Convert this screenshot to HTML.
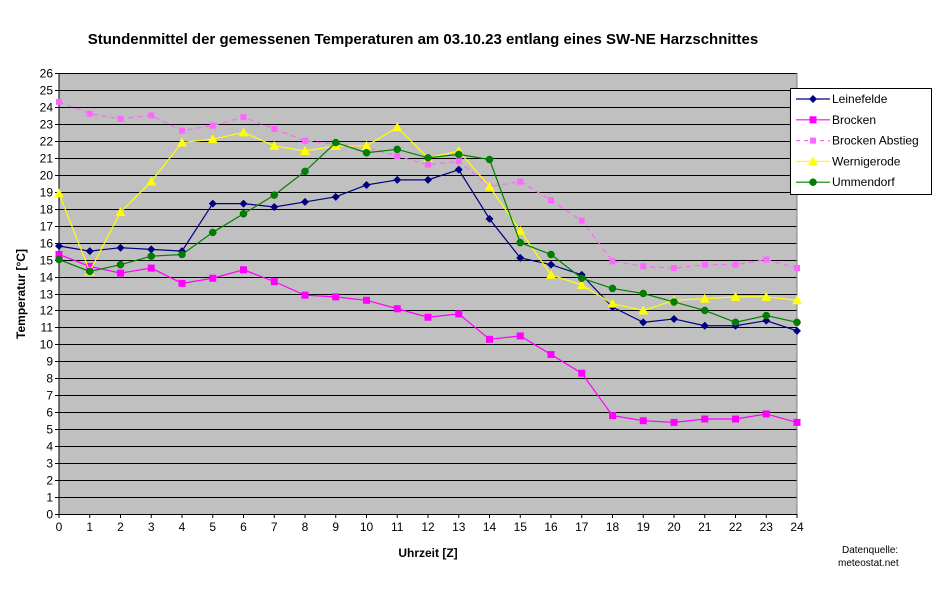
<!DOCTYPE html>
<html><head><meta charset="utf-8"><style>
body{margin:0;background:#fff;font-family:"Liberation Sans",Arial,sans-serif}
svg text{font-family:"Liberation Sans",Arial,sans-serif}
</style></head><body>
<svg id="c" width="935" height="586" xmlns="http://www.w3.org/2000/svg">
<rect width="935" height="586" fill="#fff"/>
<text x="423" y="44" text-anchor="middle" font-size="15" font-weight="bold">Stundenmittel der gemessenen Temperaturen am 03.10.23 entlang eines SW-NE Harzschnittes</text>
<rect x="59" y="73" width="738" height="441" fill="#c0c0c0"/>
<g id="grid"></g><g id="axes"></g><g id="series"></g>
<text transform="translate(25,294) rotate(-90)" text-anchor="middle" font-size="12" font-weight="bold">Temperatur [°C]</text>
<text x="428" y="557" text-anchor="middle" font-size="12" font-weight="bold">Uhrzeit [Z]</text>
<text x="842" y="553" font-size="10">Datenquelle:</text>
<text x="838" y="566" font-size="10">meteostat.net</text>
<g>
<rect x="790.5" y="88.5" width="141" height="106" fill="#fff" stroke="#000"/>
<g id="legend"></g>
</g>
</svg>
<script>
const hours=[0,1,2,3,4,5,6,7,8,9,10,11,12,13,14,15,16,17,18,19,20,21,22,23,24];
const yTicks=[0,1,2,3,4,5,6,7,8,9,10,11,12,13,14,15,16,17,18,19,20,21,22,23,24,25,26];
const leinefelde=[15.8,15.5,15.7,15.6,15.5,18.3,18.3,18.1,18.4,18.7,19.4,19.7,19.7,20.3,17.4,15.1,14.7,14.1,12.2,11.3,11.5,11.1,11.1,11.4,10.8];
const brocken=[15.3,14.6,14.2,14.5,13.6,13.9,14.4,13.7,12.9,12.8,12.6,12.1,11.6,11.8,10.3,10.5,9.4,8.3,5.8,5.5,5.4,5.6,5.6,5.9,5.4];
const brockenAbstieg=[24.3,23.6,23.3,23.5,22.6,22.9,23.4,22.7,22.0,21.8,21.6,21.1,20.6,20.8,19.3,19.6,18.5,17.3,14.9,14.6,14.5,14.7,14.7,15.0,14.5];
const wernigerode=[18.9,14.3,17.8,19.6,21.9,22.1,22.5,21.7,21.4,21.7,21.7,22.8,21.0,21.4,19.3,16.7,14.1,13.5,12.4,12.0,12.6,12.7,12.8,12.8,12.6];
const ummendorf=[15.0,14.3,14.7,15.2,15.3,16.6,17.7,18.8,20.2,21.9,21.3,21.5,21.0,21.2,20.9,16.0,15.3,13.9,13.3,13.0,12.5,12.0,11.3,11.7,11.3];
const X0=59,X1=797,Y0=514,Y1=73;
const xs=h=>X0+(X1-X0)*h/24;
const ys=v=>Y0-(Y0-Y1)*v/26;
const NS="http://www.w3.org/2000/svg";
function mk(tag,attrs,parent){const e=document.createElementNS(NS,tag);for(const k in attrs)e.setAttribute(k,attrs[k]);parent.appendChild(e);return e;}
const grid=document.getElementById('grid'),axes=document.getElementById('axes'),ser=document.getElementById('series'),leg=document.getElementById('legend');
yTicks.forEach(t=>{
  const y=Math.round(ys(t))+0.5;
  if(t>0){const g=mk('line',{x1:X0,x2:X1,y1:y,y2:y,stroke:'#000','stroke-width':1},grid);
  
  }
  const tk=mk('line',{x1:X0-4,x2:X0,y1:y,y2:y,stroke:'#000'},axes);
  
  
  const tx=mk('text',{x:X0-6,y:y+4,'text-anchor':'end','font-size':12},axes);tx.textContent=t;
  
  
});
hours.forEach(h=>{
  const x=xs(h);
  const tk=mk('line',{x1:x,x2:x,y1:Y0,y2:Y0+4,stroke:'#000'},axes);
  
  
  const tx=mk('text',{x:x,y:Y0+17,'text-anchor':'middle','font-size':12},axes);tx.textContent=h;
  
  
});
const xa=mk('line',{x1:X0,x2:X0,y1:Y1,y2:Y0,stroke:'#000'},axes);


const xb=mk('line',{x1:X0,x2:X1,y1:Y0+0.5,y2:Y0+0.5,stroke:'#000'},axes);


const rb=mk('line',{x1:X1,x2:X1,y1:Y1,y2:Y0,stroke:'#808080'},axes);


function marker(p,type,color,x,y,name){
  let m;
  if(type==='diamond')m=mk('polygon',{points:`${x},${y-4} ${x+4},${y} ${x},${y+4} ${x-4},${y}`,fill:color},p);
  else if(type==='square')m=mk('rect',{x:x-3.5,y:y-3.5,width:7,height:7,fill:color},p);
  else if(type==='smallsquare')m=mk('rect',{x:x-3,y:y-3,width:6,height:6,fill:color},p);
  else if(type==='triangle')m=mk('polygon',{points:`${x},${y-5} ${x+5},${y+4} ${x-5},${y+4}`,fill:color},p);
  else m=mk('circle',{cx:x,cy:y,r:3.5,fill:color,stroke:'#006400','stroke-width':0.5},p);
  
  
}
const defs=[
 ['leinefelde','Leinefelde',leinefelde,'#000080','diamond',null],
 ['brocken','Brocken',brocken,'#ff00ff','square',null],
 ['brocken-abstieg','Brocken Abstieg',brockenAbstieg,'#ff66ff','smallsquare','5,4'],
 ['wernigerode','Wernigerode',wernigerode,'#ffff00','triangle',null],
 ['ummendorf','Ummendorf',ummendorf,'#008000','circle',null]
];
defs.forEach((d,i)=>{
  const [id,label,vals,color,mt,dash]=d;
  const g=mk('g',{},ser);
  
  
  const pts=vals.map((v,j)=>xs(hours[j])+','+ys(v)).join(' ');
  const a={points:pts,fill:'none',stroke:color,'stroke-width':1.2};if(dash)a['stroke-dasharray']=dash;
  const pl=mk('polyline',a,g);
  
  
  vals.forEach((v,j)=>marker(g,mt,color==='#ffff00'?'#ffff00':color,xs(hours[j]),ys(v),id+'-point'));
  const ly=99+i*20.8;
  const lg=mk('g',{},leg);
  
  
  const la={x1:796,x2:830,y1:ly,y2:ly,stroke:color,'stroke-width':1.2};if(dash)la['stroke-dasharray']='4,4';
  mk('line',la,lg);
  marker(lg,mt,color,813,ly,'legend-marker');
  const t=mk('text',{x:832,y:ly+4,'font-size':12},lg);t.textContent=label;
  
  
});
</script>
</body></html>
